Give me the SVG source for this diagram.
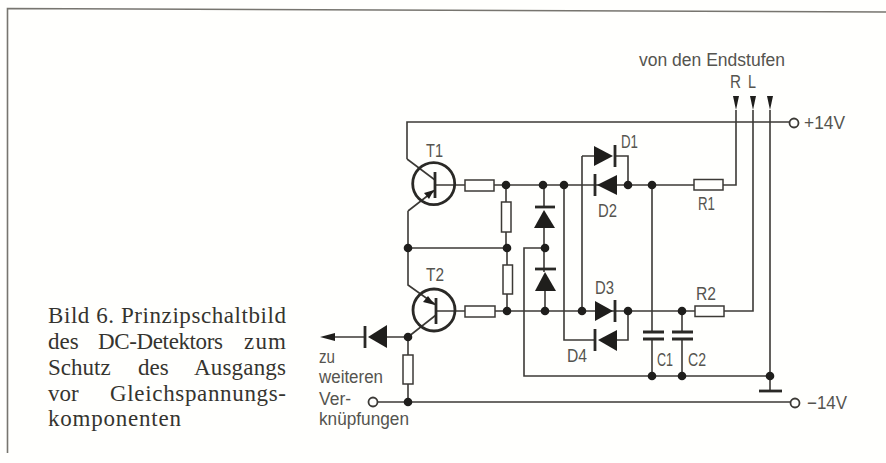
<svg xmlns="http://www.w3.org/2000/svg" width="886" height="463" viewBox="0 0 886 463">
<style>
.w{fill:none;stroke:#3c3a36;stroke-width:1.6}
.f{fill:none;stroke:#77756f;stroke-width:1.6}
.r{fill:#fffffd;stroke:#3c3a36;stroke-width:1.5}
.b{fill:none;stroke:#2a2926;stroke-width:2.8}
.k{fill:#1f1e1c;stroke:none}
.o{fill:#fffffd;stroke:#3c3a36;stroke-width:1.8}
.l{font-family:"Liberation Sans","DejaVu Sans",sans-serif;font-size:18px;fill:#55544f}
.c{font-family:"Liberation Serif","DejaVu Serif",serif;font-size:23px;fill:#35342f}
</style>
<defs>
<circle id="dot" class="k" r="4.300"/>
<path id="tip" class="k" d="M-3 -14H3L0 0Z"/>
</defs>
<rect width="886" height="463" fill="#fffffd"/>
<g id="frame"><path class="f" d="M7.500 453V8.500L886 12"/></g>
<g id="connectors">
<path class="w" d="M407 159V122H790M407 159L435 180M408 211L435 190M408 211V285L436 305M408 248H507M408 337L436 315"/>
<path class="w" d="M435 185H694M506 185V202M506 232V248M507 248V265M507 294V311M544 185V207M544 227V272M544 248H524V376H770M545 290V311"/>
<path class="w" d="M436 311H695M724 311H753V110"/>
<path class="w" d="M564 185V340H596M617 340H628V311M582 156V311M582 156H594M615 156H628V185"/>
<path class="w" d="M723 185H736V110M652 185V332M652 339V376M682 311V332M682 339V376M770 110V391"/>
<path class="w" d="M330 337H365M387 337H408M408 337V355M408 384V402M377.500 402H790.500"/>
</g>
<g id="junctions">
<use href="#dot" x="506" y="185"/><use href="#dot" x="543" y="185"/><use href="#dot" x="564" y="185"/><use href="#dot" x="628" y="185"/><use href="#dot" x="652" y="185"/>
<use href="#dot" x="408" y="248"/><use href="#dot" x="507" y="248"/><use href="#dot" x="545" y="248"/>
<use href="#dot" x="507" y="311"/><use href="#dot" x="545" y="311"/><use href="#dot" x="582" y="311"/><use href="#dot" x="628" y="311"/><use href="#dot" x="682" y="311"/>
<use href="#dot" x="408" y="337"/><use href="#dot" x="408" y="402"/>
<use href="#dot" x="652" y="376"/><use href="#dot" x="682" y="376"/><use href="#dot" x="770" y="376"/>
</g>
<g id="T1"><circle class="b" cx="433.700" cy="183.700" r="21"/><path class="b" d="M435 172V198"/><path class="k" d="M434 190L424 193L429 199Z"/><text class="l" x="426" y="157" textLength="17" lengthAdjust="spacingAndGlyphs">T1</text></g>
<g id="T2"><circle class="b" cx="434" cy="310" r="21"/><path class="b" d="M436 298V324"/><path class="k" d="M435 305L423 302L428 296Z"/><text class="l" x="426" y="281" textLength="18" lengthAdjust="spacingAndGlyphs">T2</text></g>
<g id="Rb1"><rect class="r" x="465" y="180" width="29" height="11"/></g>
<g id="Rb2"><rect class="r" x="465" y="306" width="30" height="11"/></g>
<g id="Rv1"><rect class="r" x="501.500" y="202" width="9.500" height="30"/></g>
<g id="Rv2"><rect class="r" x="503" y="265" width="9.500" height="29"/></g>
<g id="Rv3"><rect class="r" x="403" y="355" width="10" height="29"/></g>
<g id="DZ1"><path class="k" d="M544 210L555 228H534Z"/><path class="b" d="M535 207H555"/></g>
<g id="DZ2"><path class="k" d="M545 272L556 291H535Z"/><path class="b" d="M535 269H556"/></g>
<g id="D1"><path class="k" d="M594 146L613 156L594 166Z"/><path class="b" d="M615 145V167"/><text class="l" x="621" y="148" textLength="17" lengthAdjust="spacingAndGlyphs">D1</text></g>
<g id="D2"><path class="k" d="M617 175L597 185L617 195Z"/><path class="b" d="M595 174V196"/><text class="l" x="598" y="217" textLength="19" lengthAdjust="spacingAndGlyphs">D2</text></g>
<g id="D3"><path class="k" d="M595 301L613 311L595 321Z"/><path class="b" d="M615 300V322"/><text class="l" x="595" y="294" textLength="19" lengthAdjust="spacingAndGlyphs">D3</text></g>
<g id="D4"><path class="k" d="M617 330L598 340L617 351Z"/><path class="b" d="M595 329V351"/><text class="l" x="567" y="362" textLength="20" lengthAdjust="spacingAndGlyphs">D4</text></g>
<g id="D5"><path class="k" d="M387 325L368 337L387 348Z"/><path class="b" d="M365 326V348"/></g>
<g id="R1"><rect class="r" x="694" y="179.500" width="29" height="10.500"/><text class="l" x="698" y="210" textLength="17" lengthAdjust="spacingAndGlyphs">R1</text></g>
<g id="R2"><rect class="r" x="695" y="306" width="29" height="10.500"/><text class="l" x="696" y="300" textLength="20" lengthAdjust="spacingAndGlyphs">R2</text></g>
<g id="C1"><path class="b" d="M643 332H664M643 339H664"/><text class="l" x="657" y="366" textLength="16" lengthAdjust="spacingAndGlyphs">C1</text></g>
<g id="C2"><path class="b" d="M672 332H693M672 339H693"/><text class="l" x="688" y="366" textLength="18" lengthAdjust="spacingAndGlyphs">C2</text></g>
<g id="ground"><path class="b" d="M759 391H782"/></g>
<g id="outArrow"><path class="k" d="M320 337L335 333V341Z"/></g>
<g id="inputs">
<use href="#tip" x="736" y="110"/><use href="#tip" x="753" y="110"/><use href="#tip" x="770" y="110"/>
<text class="l" x="639" y="66" textLength="146" lengthAdjust="spacingAndGlyphs">von den Endstufen</text>
<text class="l" x="730" y="88" textLength="11" lengthAdjust="spacingAndGlyphs">R</text>
<text class="l" x="748" y="88" textLength="8" lengthAdjust="spacingAndGlyphs">L</text>
</g>
<g id="plus14"><circle class="o" cx="794" cy="123" r="4.500"/><text class="l" x="804" y="129" textLength="41" lengthAdjust="spacingAndGlyphs">+14V</text></g>
<g id="minus14"><circle class="o" cx="795" cy="403" r="4.500"/><text class="l" x="807" y="409" textLength="40" lengthAdjust="spacingAndGlyphs">−14V</text></g>
<g id="port"><circle class="o" cx="373" cy="402" r="4.500"/>
<text class="l" x="319" y="363" textLength="16" lengthAdjust="spacingAndGlyphs">zu</text>
<text class="l" x="319" y="383" textLength="64" lengthAdjust="spacingAndGlyphs">weiteren</text>
<text class="l" x="319" y="405" textLength="32" lengthAdjust="spacingAndGlyphs">Ver-</text>
<text class="l" x="319" y="425" textLength="90" lengthAdjust="spacingAndGlyphs">knüpfungen</text>
</g>
<g id="caption">
<text class="c" x="48" y="323" textLength="238">Bild 6. Prinzipschaltbild</text>
<text class="c" x="48" y="349">des</text><text class="c" x="98" y="349" textLength="125">DC-Detektors</text><text class="c" x="244" y="349" textLength="42">zum</text>
<text class="c" x="48" y="375">Schutz</text><text class="c" x="138" y="375">des</text><text class="c" x="194" y="375" textLength="92">Ausgangs</text>
<text class="c" x="48" y="401">vor</text><text class="c" x="110" y="401" textLength="176">Gleichspannungs-</text>
<text class="c" x="48" y="426" textLength="133">komponenten</text>
</g>
</svg>
